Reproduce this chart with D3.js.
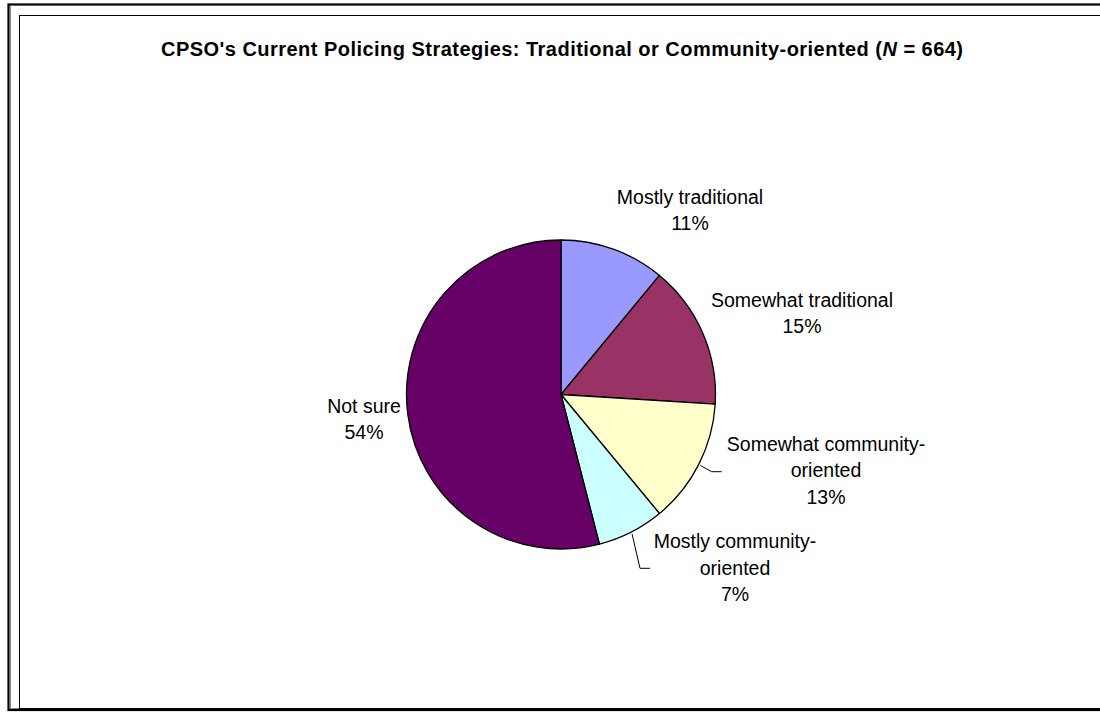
<!DOCTYPE html>
<html>
<head>
<meta charset="utf-8">
<script src="https://cdn.jsdelivr.net/npm/d3@7/dist/d3.min.js"></script>
<style>
  html, body { margin: 0; padding: 0; background: #fff; }
  svg { display: block; font-family: "Liberation Sans", Arial, sans-serif; }
</style>
</head>
<body>
<svg id="chart" width="1100" height="719"></svg>
<script>
// Survey responses, in clockwise order from 12 o'clock
const categories = [
  "Mostly traditional",
  "Somewhat traditional",
  "Somewhat community-oriented",
  "Mostly community-oriented",
  "Not sure"
];
const percents = [11, 15, 13, 7, 54];
// Label text broken into lines as it is printed beside each slice
const labelLines = [
  ["Mostly traditional"],
  ["Somewhat traditional"],
  ["Somewhat community-", "oriented"],
  ["Mostly community-", "oriented"],
  ["Not sure"]
];
const sliceColors = ["#9999FF", "#993366", "#FFFFCC", "#CCFFFF", "#660066"];

const W = 1100, H = 719;
const cx = 561, cy = 394.5, R = 154.5;
const svg = d3.select("#chart");

// Chart frame: heavy outer border with a grey inner edge, thin plot border
svg.append("rect").attr("x", 8.5).attr("y", 4.5).attr("width", 1110).attr("height", 705.5)
  .attr("fill", "none").attr("stroke", "#000").attr("stroke-width", 2.2);
svg.append("line").attr("x1", 10.5).attr("x2", 10.5).attr("y1", 6).attr("y2", 708)
  .attr("stroke", "#888").attr("stroke-width", 1);
svg.append("line").attr("x1", 10).attr("x2", W).attr("y1", 708.5).attr("y2", 708.5)
  .attr("stroke", "#888").attr("stroke-width", 1);
svg.append("rect").attr("x", 19.5).attr("y", 15.5).attr("width", 1083.5).attr("height", 693)
  .attr("fill", "none").attr("stroke", "#000").attr("stroke-width", 1);

// Title
const title = svg.append("text")
  .attr("x", 562).attr("y", 55.5)
  .attr("text-anchor", "middle")
  .attr("font-size", 20).attr("font-weight", "bold")
  .attr("textLength", 802).attr("lengthAdjust", "spacing");
title.append("tspan").text("CPSO's Current Policing Strategies: Traditional or Community-oriented (");
title.append("tspan").attr("font-style", "italic").text("N");
title.append("tspan").text(" = 664)");

// Pie
const data = categories.map((c, i) => ({ name: c, value: percents[i], color: sliceColors[i], lines: labelLines[i] }));
const pie = d3.pie().value(d => d.value).sort(null).startAngle(0).endAngle(2 * Math.PI);
const arcs = pie(data);
const arc = d3.arc().innerRadius(0).outerRadius(R);

const g = svg.append("g").attr("transform", `translate(${cx},${cy})`);
g.selectAll("path.slice").data(arcs).enter().append("path")
  .attr("class", "slice")
  .attr("d", arc)
  .attr("fill", d => d.data.color)
  .attr("stroke", "#000")
  .attr("stroke-width", 1.3)
  .attr("stroke-linejoin", "round");

// Label placement (offsets from pie centre) and leader lines for the lower-right labels
const labelLayout = [
  { dx: 129, dy: -191 },
  { dx: 241, dy: -88 },
  { dx: 265, dy: 56 },
  { dx: 174, dy: 153.5 },
  { dx: -197, dy: 18 }
];
const leaderLayout = [
  null,
  null,
  { elbow: [150.7, 77.2], end: [160.7, 77.2] },
  { elbow: [79, 173.8], end: [89, 173.8] }
];
const lineGap = 26.5;

arcs.forEach((a, i) => {
  const L = labelLayout[i];
  const t = g.append("text")
    .attr("text-anchor", "middle")
    .attr("font-size", 19.5)
    .attr("fill", "#000");
  const lines = a.data.lines.concat([a.data.value + "%"]);
  lines.forEach((ln, k) => {
    t.append("tspan").attr("x", L.dx).attr("y", L.dy + k * lineGap).text(ln);
  });

  const ld = leaderLayout[i];
  if (ld) {
    const mid = (a.startAngle + a.endAngle) / 2;
    const sx = Math.sin(mid) * (R + 2), sy = -Math.cos(mid) * (R + 2);
    g.append("polyline")
      .attr("points", [[sx, sy], ld.elbow, ld.end].map(p => p.join(",")).join(" "))
      .attr("fill", "none").attr("stroke", "#000").attr("stroke-width", 1);
  }
});
</script>
</body>
</html>
